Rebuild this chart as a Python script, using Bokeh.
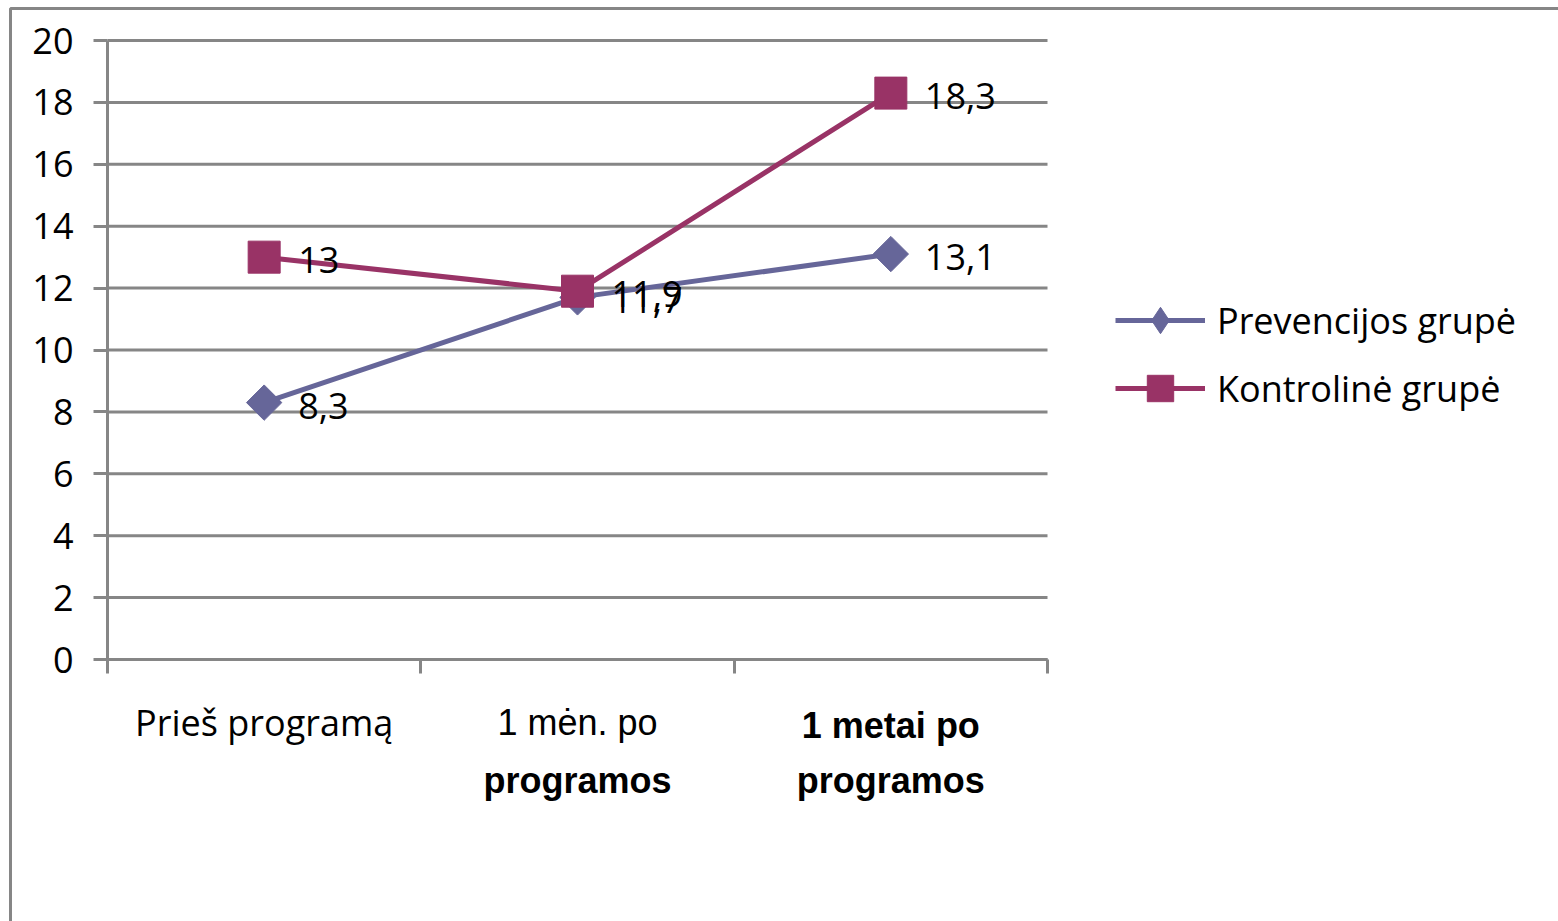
import math
from bokeh.plotting import figure
from bokeh.models import (Range1d, FixedTicker, Legend, LegendItem, ColumnDataSource)
from bokeh.core.properties import value
from bokeh.embed import file_html
from bokeh.resources import INLINE

# --- data -------------------------------------------------------------
categories = ["Prieš programą", "1 mėn. po programos", "1 metai po programos"]
series_names = ["Prevencijos grupė", "Kontrolinė grupė"]
prevencijos = [8.3, 11.7, 13.1]
kontroline = [13.0, 11.9, 18.3]
prevencijos_labels = ["8,3", "11,7", "13,1"]
kontroline_labels = ["13", "11,9", "18,3"]
y_ticks = [0, 2, 4, 6, 8, 10, 12, 14, 16, 18, 20]
y_min, y_max = 0, 20

# --- layout (pixels) ----------------------------------------------------
W, H = 1558, 921
PLOT_L, PLOT_R, PLOT_T, PLOT_B = 107, 1047, 40, 659   # value area
BOX_L, BOX_T = 10, 8                                  # chart border

# --- styling ----------------------------------------------------------
PREV_COLOR = "#666699"
KONT_COLOR = "#993366"
GRID_COLOR = "#868686"
FONT = "Open Sans"
NARROW = "Liberation Sans Narrow, Arial Narrow, Liberation Sans"

n = len(categories)
xs = [i + 0.5 for i in range(n)]

# ranges chosen so the value area sits at the pixel box above
px_x = (PLOT_R - PLOT_L) / n
px_y = (PLOT_B - PLOT_T) / (y_max - y_min)
x_range = Range1d(-PLOT_L / px_x, n + (W - PLOT_R) / px_x)
y_range = Range1d(y_min - (H - PLOT_B) / px_y, y_max + PLOT_T / px_y)

p = figure(width=W, height=H, output_backend="svg", toolbar_location=None,
           x_range=x_range, y_range=y_range,
           min_border=0, min_border_left=0, min_border_right=0,
           min_border_top=0, min_border_bottom=0)
p.outline_line_color = None
p.background_fill_color = "white"
p.border_fill_color = "white"
p.xgrid.visible = False
p.ygrid.visible = False

# chart border (top and left edges)
bx = x_range.start + BOX_L / px_x
by = y_range.end - BOX_T / px_y
p.line([bx, bx, x_range.end], [y_range.start, by, by],
       line_color=GRID_COLOR, line_width=3)

# horizontal gridlines across the category span
p.segment(x0=[0] * len(y_ticks), x1=[n] * len(y_ticks), y0=y_ticks, y1=y_ticks,
          line_color=GRID_COLOR, line_width=3)

# value axis
p.yaxis.fixed_location = 0
p.yaxis.bounds = (y_min, y_max)
p.yaxis.ticker = FixedTicker(ticks=y_ticks)
p.yaxis.major_tick_out = 14
p.yaxis.major_tick_in = 0
p.yaxis.minor_tick_line_color = None
p.yaxis.axis_line_color = GRID_COLOR
p.yaxis.axis_line_width = 3
p.yaxis.major_tick_line_color = GRID_COLOR
p.yaxis.major_tick_line_width = 3
p.yaxis.major_label_text_font = FONT
p.yaxis.major_label_text_font_size = "36px"
p.yaxis.major_label_text_color = "black"
p.yaxis.major_label_standoff = 20

# category axis: tick marks between categories, labels drawn as text
p.xaxis.fixed_location = 0
p.xaxis.bounds = (0, n)
p.xaxis.ticker = FixedTicker(ticks=list(range(n + 1)))
p.xaxis.major_tick_out = 14
p.xaxis.major_tick_in = 0
p.xaxis.minor_tick_line_color = None
p.xaxis.axis_line_color = GRID_COLOR
p.xaxis.axis_line_width = 3
p.xaxis.major_tick_line_color = GRID_COLOR
p.xaxis.major_tick_line_width = 3
p.xaxis.major_label_text_alpha = 0

# series
src_p = ColumnDataSource(dict(x=xs, y=prevencijos, t=prevencijos_labels))
src_k = ColumnDataSource(dict(x=xs, y=kontroline, t=kontroline_labels))

lp = p.line("x", "y", source=src_p, line_color=PREV_COLOR, line_width=5)
# diamond key for the legend (legend keys ignore marker rotation); it sits
# entirely underneath the rotated square markers drawn next
key_p = p.scatter("x", "y", source=src_p, marker="diamond", size=30,
                  fill_color=PREV_COLOR, line_color=PREV_COLOR)
mp = p.scatter("x", "y", source=src_p, marker="square", angle=math.pi / 4,
               size=25, fill_color=PREV_COLOR, line_color=PREV_COLOR)
lk = p.line("x", "y", source=src_k, line_color=KONT_COLOR, line_width=5)
mk = p.scatter("x", "y", source=src_k, marker="square", size=32,
               fill_color=KONT_COLOR, line_color=KONT_COLOR)

for src in (src_p, src_k):
    p.text("x", "y", text="t", source=src, x_offset=34, y_offset=3,
           text_font=value(FONT), text_font_size="36px", text_color="black",
           text_baseline="middle", text_align="left")

# category labels under the axis
cat_rows = [
    [("Prieš programą", FONT, "normal", 63)],
    [("1 mėn. po", NARROW, "normal", 63), ("programos", NARROW, "bold", 121)],
    [("1 metai po", NARROW, "bold", 66), ("programos", NARROW, "bold", 121)],
]
for x, rows in zip(xs, cat_rows):
    for txt, fnt, style, off in rows:
        p.text(x=[x], y=[y_min], text=[txt], y_offset=off,
               text_font=value(fnt), text_font_style=style,
               text_font_size="36px", text_align="center",
               text_baseline="alphabetic", text_color="black")

# legend
legend = Legend(items=[LegendItem(label=series_names[0], renderers=[lp, key_p]),
                       LegendItem(label=series_names[1], renderers=[lk, mk])],
                location=(1115, H - 421), glyph_width=90, glyph_height=66,
                label_height=34, spacing=2, label_standoff=12, padding=0,
                margin=0, border_line_alpha=0, background_fill_alpha=0,
                label_text_font=FONT, label_text_font_size="36px",
                label_text_color="black")
p.add_layout(legend)

open("out.html", "w").write(file_html(p, INLINE))
